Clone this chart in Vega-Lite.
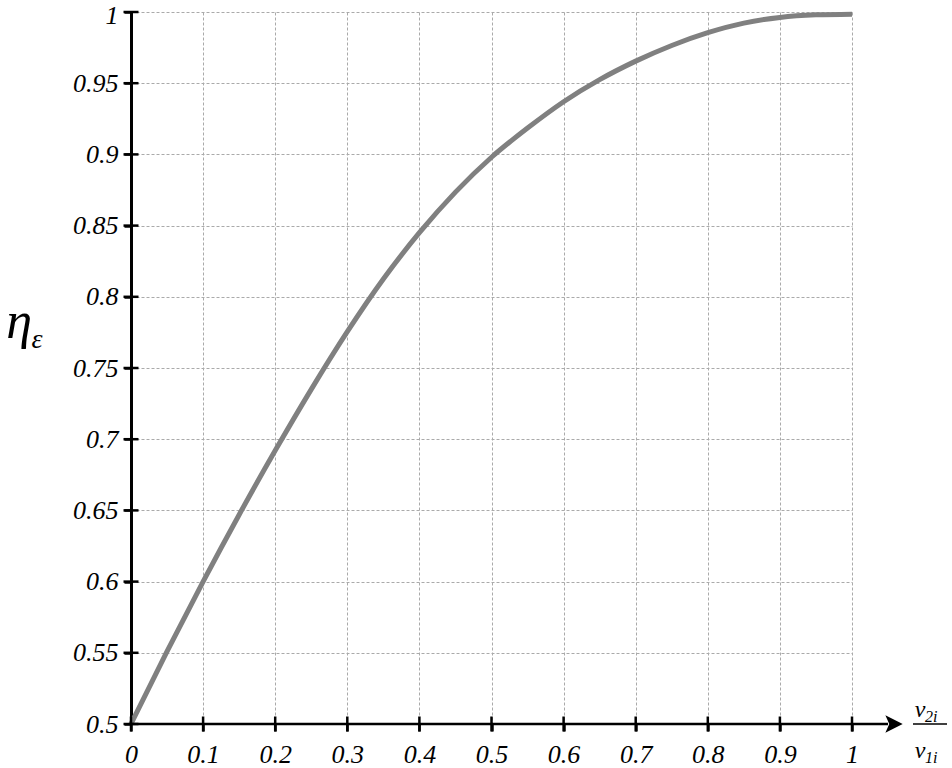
{
  "$schema": "https://vega.github.io/schema/vega-lite/v6.json",
  "width": 721,
  "height": 712,
  "autosize": {"type": "none"},
  "padding": {"left": 131, "top": 12, "right": 100, "bottom": 44},
  "background": "white",
  "data": {"values": [{}]},
  "config": {
    "view": {"stroke": null},
    "axis": {
      "labelFont": "Liberation Serif",
      "labelFontStyle": "italic",
      "labelFontSize": 26,
      "labelColor": "black",
      "labelFlush": false,
      "labelOverlap": false,
      "grid": true,
      "gridColor": "#aaaaaa",
      "gridDash": [3, 2],
      "gridWidth": 1,
      "tickColor": "black",
      "tickWidth": 2.5,
      "tickSize": 7,
      "title": null
    }
  },
  "datasets": {
    "curve": [
      {"x": 0.0, "eta": 0.5},
      {"x": 0.05, "eta": 0.551},
      {"x": 0.1, "eta": 0.6},
      {"x": 0.15, "eta": 0.647},
      {"x": 0.2, "eta": 0.692},
      {"x": 0.25, "eta": 0.735},
      {"x": 0.3, "eta": 0.7755},
      {"x": 0.35, "eta": 0.8125},
      {"x": 0.4, "eta": 0.845},
      {"x": 0.45, "eta": 0.8735},
      {"x": 0.5, "eta": 0.898},
      {"x": 0.55, "eta": 0.9185},
      {"x": 0.6, "eta": 0.937},
      {"x": 0.65, "eta": 0.9525},
      {"x": 0.7, "eta": 0.9655},
      {"x": 0.75, "eta": 0.9765},
      {"x": 0.8, "eta": 0.9855},
      {"x": 0.85, "eta": 0.9922},
      {"x": 0.9, "eta": 0.9962},
      {"x": 0.95, "eta": 0.998},
      {"x": 1.0, "eta": 0.9985}
    ],
    "xticks": [
      {"v": 0}, {"v": 0.1}, {"v": 0.2}, {"v": 0.3}, {"v": 0.4}, {"v": 0.5},
      {"v": 0.6}, {"v": 0.7}, {"v": 0.8}, {"v": 0.9}, {"v": 1}
    ],
    "yticks": [
      {"v": 0.5}, {"v": 0.55}, {"v": 0.6}, {"v": 0.65}, {"v": 0.7}, {"v": 0.75},
      {"v": 0.8}, {"v": 0.85}, {"v": 0.9}, {"v": 0.95}, {"v": 1}
    ]
  },
  "layer": [
    {
      "data": {"name": "curve"},
      "mark": {"type": "line", "color": "#808080", "strokeWidth": 5, "interpolate": "monotone"},
      "encoding": {
        "x": {
          "field": "x", "type": "quantitative",
          "scale": {"domain": [0, 1], "nice": false, "zero": false},
          "axis": {
            "values": [0, 0.1, 0.2, 0.3, 0.4, 0.5, 0.6, 0.7, 0.8, 0.9, 1],
            "format": "~g",
            "domain": false,
            "labelPadding": 10
          }
        },
        "y": {
          "field": "eta", "type": "quantitative",
          "scale": {"domain": [0.5, 1], "nice": false, "zero": false},
          "axis": {
            "values": [0.5, 0.55, 0.6, 0.65, 0.7, 0.75, 0.8, 0.85, 0.9, 0.95, 1],
            "format": "~g",
            "domain": true,
            "domainColor": "black",
            "domainWidth": 3,
            "labelPadding": 6,
            "labelOffset": {"condition": {"test": "datum.value == 1", "value": 3}, "value": 0}
          }
        }
      }
    },
    {
      "mark": {"type": "rule", "color": "black", "strokeWidth": 2.5},
      "encoding": {
        "x": {"datum": 0, "type": "quantitative"},
        "x2": {"datum": 1.05},
        "y": {"datum": 0.5, "type": "quantitative"}
      }
    },
    {
      "mark": {"type": "point", "shape": "M -1 -1 L 1 0 L -1 1 L -0.55 0 Z", "size": 300, "filled": true, "color": "black", "opacity": 1},
      "encoding": {
        "x": {"datum": 1.0583, "type": "quantitative"},
        "y": {"datum": 0.5, "type": "quantitative"}
      }
    },
    {
      "data": {"name": "xticks"},
      "mark": {"type": "tick", "orient": "vertical", "size": 15, "thickness": 2.5, "color": "black", "opacity": 1},
      "encoding": {
        "x": {"field": "v", "type": "quantitative"},
        "y": {"datum": 0.5, "type": "quantitative"}
      }
    },
    {
      "data": {"name": "yticks"},
      "mark": {"type": "tick", "orient": "horizontal", "size": 15, "thickness": 2.5, "color": "black", "opacity": 1},
      "encoding": {
        "y": {"field": "v", "type": "quantitative"},
        "x": {"datum": 0, "type": "quantitative"}
      }
    },
    {
      "mark": {"type": "rule", "color": "black", "strokeWidth": 1.5},
      "encoding": {
        "x": {"datum": 1.0846, "type": "quantitative"},
        "x2": {"datum": 1.1318},
        "y": {"datum": 0.5, "type": "quantitative"}
      }
    },
    {
      "mark": {"type": "text", "text": "v", "font": "Liberation Serif", "fontStyle": "italic", "fontSize": 24, "align": "center", "baseline": "alphabetic", "dy": -7, "color": "black"},
      "encoding": {
        "x": {"datum": 1.0943, "type": "quantitative"},
        "y": {"datum": 0.5, "type": "quantitative"}
      }
    },
    {
      "mark": {"type": "text", "text": "2i", "font": "Liberation Serif", "fontStyle": "italic", "fontSize": 16, "align": "left", "baseline": "alphabetic", "dy": -2, "color": "black"},
      "encoding": {
        "x": {"datum": 1.1012, "type": "quantitative"},
        "y": {"datum": 0.5, "type": "quantitative"}
      }
    },
    {
      "mark": {"type": "text", "text": "v", "font": "Liberation Serif", "fontStyle": "italic", "fontSize": 24, "align": "center", "baseline": "alphabetic", "dy": 34, "color": "black"},
      "encoding": {
        "x": {"datum": 1.0943, "type": "quantitative"},
        "y": {"datum": 0.5, "type": "quantitative"}
      }
    },
    {
      "mark": {"type": "text", "text": "1i", "font": "Liberation Serif", "fontStyle": "italic", "fontSize": 16, "align": "left", "baseline": "alphabetic", "dy": 39, "color": "black"},
      "encoding": {
        "x": {"datum": 1.1012, "type": "quantitative"},
        "y": {"datum": 0.5, "type": "quantitative"}
      }
    },
    {
      "mark": {"type": "text", "text": "η", "font": "Liberation Serif", "fontStyle": "italic", "fontSize": 52, "align": "center", "baseline": "alphabetic", "color": "black"},
      "encoding": {
        "x": {"datum": -0.1553, "type": "quantitative"},
        "y": {"datum": 0.7711, "type": "quantitative"}
      }
    },
    {
      "mark": {"type": "text", "text": "ε", "font": "Liberation Serif", "fontStyle": "italic", "fontSize": 28, "align": "left", "baseline": "alphabetic", "color": "black"},
      "encoding": {
        "x": {"datum": -0.138, "type": "quantitative"},
        "y": {"datum": 0.7641, "type": "quantitative"}
      }
    }
  ]
}
